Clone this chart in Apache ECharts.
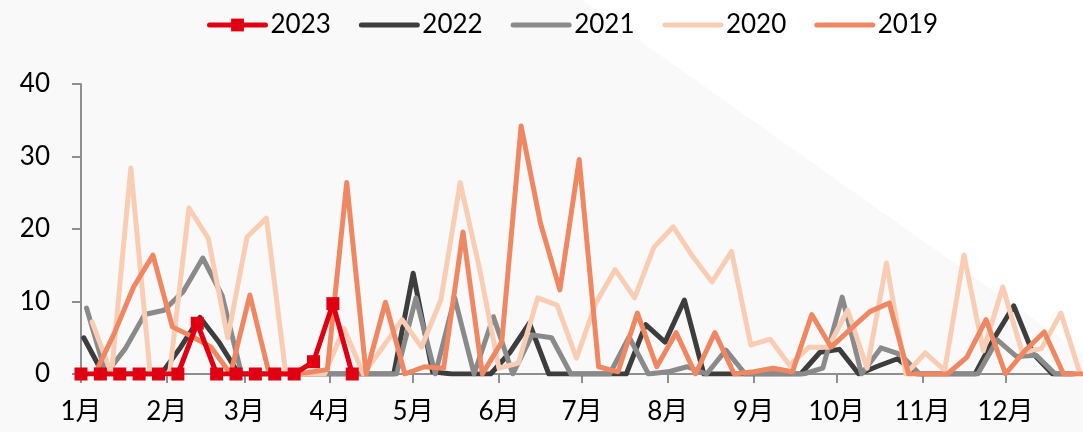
<!DOCTYPE html>
<html><head><meta charset="utf-8">
<script src="https://cdn.jsdelivr.net/npm/echarts@6/dist/echarts.min.js"></script>
<style>html,body{margin:0;padding:0;background:#f9f9f9}#c{width:1083px;height:432px}</style>
</head><body><div id="c"></div>
<script>
// Data (weekly values)
const years = ['2023', '2022', '2021', '2020', '2019'];
const firstWeek = ['2023-01-01', '2022-01-02', '2021-01-03', '2020-01-05', '2019-01-06'];
const monthStartDays = [0, 31, 59, 90, 120, 151, 181, 212, 243, 273, 304, 334];
const monthLabels = ['1月', '2月', '3月', '4月', '5月', '6月', '7月', '8月', '9月', '10月', '11月', '12月'];
const yTicks = [0, 10, 20, 30, 40];

const v2023 = [0, 0, 0, 0, 0, 0, 7, 0, 0, 0, 0, 0, 1.7, 9.7, 0];
const v2022 = [5, 0, 0, 0, 0, 3.7, 7.8, 4.3, 0, 0, 0, 0, 0, 0, 0, 0, 0, 13.9, 0.3, 0,
  0, 0, 3, 7, 0, 0, 0, 0, 0, 6.8, 4.4, 10.2, 0, 0, 0, 0, 0, 0, 3.0, 3.4,
  0, 1.1, 2.1, 0, 0, 0, 0, 5, 9.4, 2.8, 0, 0];
const v2021 = [9.1, 0, 3.5, 8.2, 8.8, 11.4, 16, 10.8, 0, 0, 0, 0, 0, 0, 0, 0, 0, 10.5, 0, 10.5,
  0, 7.9, 0, 5.4, 5.0, 0, 0, 0, 5.1, 0, 0.3, 1.0, 0, 3.3, 0, 0, 0, 0, 0.8, 10.6,
  0, 3.6, 2.7, 0, 0, 0, 0, 4.7, 2.4, 2.6, 0, 0];
const v2020 = [7.2, 0, 28.4, 0, 0, 22.9, 18.7, 5, 18.9, 21.5, 0, 0, 0, 6.3, 0, 3.7, 7.5, 3.7, 10.2, 26.4,
  14.5, 0.8, 1.5, 10.5, 9.5, 2.2, 9.8, 14.4, 10.5, 17.5, 20.3, 16.2, 12.7, 16.9, 4.0, 4.8, 1.2, 3.7, 3.7, 8.8,
  0.8, 15.3, 0, 2.9, 0.5, 16.4, 3.2, 12, 3.0, 3.5, 8.4, 0];
const v2019 = [0, 5.6, 12, 16.4, 6.5, 5.2, 3.7, 0, 10.9, 0, 0, 0.2, 0.6, 26.4, 0, 9.9, 0, 1.0, 0.8, 19.6,
  0, 4.4, 34.2, 20.8, 11.6, 29.6, 1.0, 0.3, 8.4, 1.0, 5.7, 0, 5.7, 0, 0.3, 0.8, 0.3, 8.2, 3.7, 6.2,
  8.6, 9.8, 0, 0, 0, 2.3, 7.5, 0, 3.2, 5.8, 0, 0];
const values = [v2023, v2022, v2021, v2020, v2019];

const colors = ['#E00012', '#3d3d3d', '#8a8a8a', '#f8cdb4', '#ef8862'];
const font = 'Lato, "Noto Sans CJK SC", sans-serif';

function dayOfYear(s) {
  const d = new Date(s + 'T00:00:00Z');
  const y0 = Date.UTC(d.getUTCFullYear(), 0, 1);
  return Math.round((d.getTime() - y0) / 86400000);
}

const series = years.map((y, k) => {
  const off = dayOfYear(firstWeek[k]);
  const isMark = k === 0;
  return {
    name: y,
    type: 'line',
    data: values[k].map((v, i) => [off + 7 * i, v]),
    symbol: isMark ? 'rect' : 'none',
    symbolSize: 13,
    showSymbol: isMark,
    z: isMark ? 10 : (2 + k),
    lineStyle: { color: colors[k], width: 5, cap: 'round', join: 'round' },
    itemStyle: { color: colors[k] },
    animation: false
  };
});

const legendData = years.map((y, k) => k === 0
  ? { name: y }
  : { name: y, itemStyle: { opacity: 0 } });

const chart = echarts.init(document.getElementById('c'), null, { renderer: 'canvas' });
chart.setOption({
  backgroundColor: '#f9f9f9',
  animation: false,
  graphic: { elements: [{ type: 'polygon', z: -10, silent: true,
    shape: { points: [[582, 0], [1083, 0], [1083, 354]] }, style: { fill: '#ffffff' } }] },
  color: colors,
  legend: {
    data: legendData,
    left: 202, top: 7,
    itemWidth: 56, itemHeight: 16, itemGap: 28,
    lineStyle: { width: 5, cap: 'round' },
    textStyle: { fontFamily: font, fontSize: 26, color: '#000' }
  },
  grid: { left: 81, right: -2, top: 84, bottom: 58, containLabel: false },
  xAxis: {
    type: 'value', min: 0, max: 362,
    axisLine: { lineStyle: { color: '#8f8f8f', width: 2 } },
    axisTick: { show: true, length: 9, customValues: monthStartDays, lineStyle: { color: '#8f8f8f', width: 2 } },
    axisLabel: { customValues: monthStartDays, margin: 25, fontFamily: font, fontSize: 26, color: '#000',
      formatter: v => monthLabels[monthStartDays.indexOf(v)] },
    splitLine: { show: false }
  },
  yAxis: {
    type: 'value', min: yTicks[0], max: yTicks[yTicks.length - 1], interval: 10,
    axisLine: { show: true, lineStyle: { color: '#8f8f8f', width: 2 } },
    axisTick: { show: true, length: 9, lineStyle: { color: '#8f8f8f', width: 2 } },
    axisLabel: { margin: 31, fontFamily: font, fontSize: 26, color: '#000' },
    splitLine: { show: false }
  },
  series: series
});
</script></body></html>
